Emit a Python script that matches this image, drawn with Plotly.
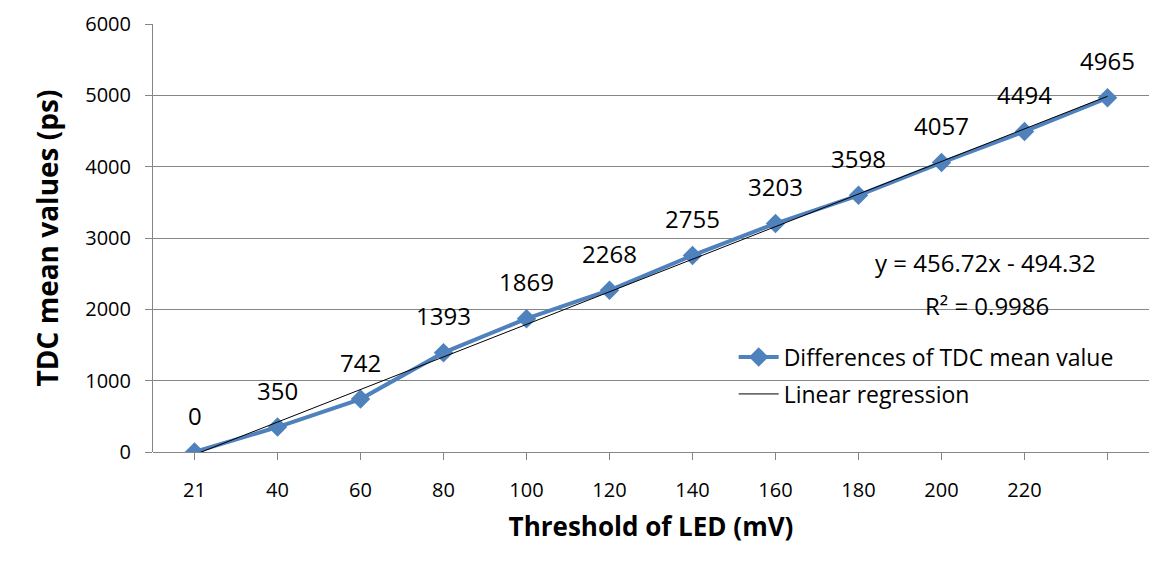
import plotly.graph_objects as go

categories = ["21", "40", "60", "80", "100", "120", "140", "160", "180", "200", "220", ""]
tdc_values = [0, 350, 742, 1393, 1869, 2268, 2755, 3203, 3598, 4057, 4494, 4965]
slope = 456.72
intercept = -494.32
r_squared = 0.9986

FONT = "Open Sans, Noto Sans, sans-serif"
idx = list(range(1, len(categories) + 1))
reg_x = [idx[0], idx[-1]]
reg_y = [slope * x + intercept for x in reg_x]

fig = go.Figure()
fig.add_trace(go.Scatter(
    x=idx, y=tdc_values, mode="lines+markers",
    name="Differences of TDC mean value", legendgroup="data",
    line=dict(color="#4F81BD", width=4),
    marker=dict(symbol="diamond", size=15, color="#4F81BD"),
))
fig.add_trace(go.Scatter(
    x=reg_x, y=reg_y, mode="lines", name="Linear regression", legendgroup="fit",
    line=dict(color="black", width=1),
))

for x, v in zip(idx, tdc_values):
    fig.add_annotation(x=x, y=v, text=str(v), showarrow=False, yshift=37,
                       xanchor="center", yanchor="middle",
                       font=dict(size=24, color="black", family=FONT))

fig.add_annotation(xref="paper", yref="paper", x=0.836, y=0.442,
                   xanchor="center", yanchor="middle",
                   text=f"y = {slope}x - {abs(intercept)}", showarrow=False,
                   font=dict(size=24, color="black", family=FONT))
fig.add_annotation(xref="paper", yref="paper", x=0.837, y=0.343,
                   xanchor="center", yanchor="middle",
                   text=f"R² = {r_squared}", showarrow=False,
                   font=dict(size=24, color="black", family=FONT))

# page body has an 8px margin, so the figure is drawn 16px smaller and offset
fig.update_layout(
    width=1156, height=559,
    margin=dict(l=145, r=15, t=16, b=115),
    paper_bgcolor="white", plot_bgcolor="white",
    font=dict(family=FONT, color="black"),
    legend=dict(x=0.583, y=0.272, xanchor="left", yanchor="top",
                bgcolor="rgba(0,0,0,0)", font=dict(size=23, family=FONT),
                tracegroupgap=4, itemwidth=40),
    showlegend=True,
)
fig.update_xaxes(
    range=[0.5, len(categories) + 0.5], tickvals=idx, ticktext=categories,
    showgrid=False, zeroline=False, showline=False, automargin=False,
    ticks="outside", ticklen=7, tickcolor="#868686",
    ticklabelstandoff=13, tickfont=dict(size=20, family=FONT),
    title=dict(text="<b>Threshold of LED (mV)</b>", font=dict(size=26, family=FONT), standoff=15),
)
fig.update_yaxes(
    range=[0, 6000], dtick=1000, showgrid=True, gridcolor="#868686", gridwidth=1,
    zeroline=True, zerolinecolor="#868686", zerolinewidth=1, automargin=False,
    showline=True, linecolor="#868686", linewidth=1,
    ticks="outside", ticklen=7, tickcolor="#868686",
    ticklabelstandoff=10, tickfont=dict(size=20, family=FONT),
    title=dict(text="<b>TDC mean values (ps)</b>", font=dict(size=28, family=FONT), standoff=18),
)

fig.write_html("out.html")
